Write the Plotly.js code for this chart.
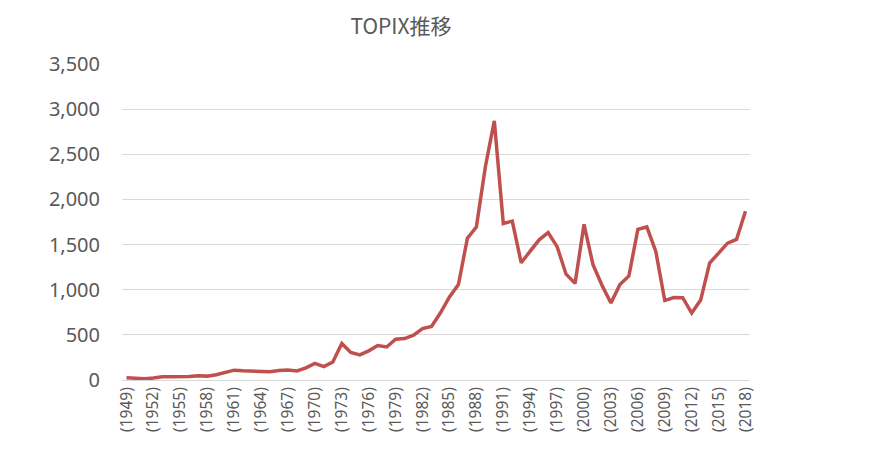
<!DOCTYPE html>
<html>
<head>
<meta charset="utf-8">
<script src="https://cdn.plot.ly/plotly-3.0.1.min.js"></script>
<style>html,body{margin:0;padding:0;background:#fff;}#chart{width:879px;height:462px;}</style>
</head>
<body>
<div id="chart"></div>
<script>
const years = [1949,1950,1951,1952,1953,1954,1955,1956,1957,1958,
  1959,1960,1961,1962,1963,1964,1965,1966,1967,1968,
  1969,1970,1971,1972,1973,1974,1975,1976,1977,1978,
  1979,1980,1981,1982,1983,1984,1985,1986,1987,1988,
  1989,1990,1991,1992,1993,1994,1995,1996,1997,1998,
  1999,2000,2001,2002,2003,2004,2005,2006,2007,2008,
  2009,2010,2011,2012,2013,2014,2015,2016,2017,2018];
const topix = [25,20,14,21,36,37,35,40,47,43,
  58,80,109,102,100,93,91,106,111,101,
  134,184,148,200,405,306,278,323,382,366,
  452,459,496,569,592,745,920,1058,1570,1695,
  2360,2870,1734,1760,1298,1428,1553,1632,1477,1172,
  1070,1724,1276,1050,852,1058,1152,1668,1695,1425,
  880,914,912,742,885,1294,1398,1516,1558,1870];
const labels = years.map(y => '(' + y + ')');
const tickLabels = labels.filter((_, i) => i % 3 === 0);

const trace = {
  x: labels,
  y: topix,
  type: 'scatter',
  mode: 'lines',
  line: {color: '#C0504D', width: 3.5},
  hoverinfo: 'x+y'
};

const layout = {
  width: 879, height: 462,
  paper_bgcolor: '#ffffff', plot_bgcolor: '#ffffff',
  margin: {l: 122, r: 129, t: 64, b: 82},
  showlegend: false,
  font: {family: '"Noto Sans", "Noto Sans CJK JP", sans-serif', color: '#595959'},
  title: {
    text: 'TOPIX推移',
    font: {family: '"Noto Sans CJK JP", "Noto Sans", sans-serif', size: 21, color: '#595959'},
    x: 401/879, xanchor: 'center', xref: 'container',
    y: 1 - 27/462, yanchor: 'middle', yref: 'container'
  },
  xaxis: {
    type: 'category',
    tickmode: 'array',
    tickvals: tickLabels,
    ticktext: tickLabels,
    tickangle: -90,
    tickfont: {size: 15.5, color: '#595959'},
    showgrid: false,
    showline: true,
    linecolor: '#d9d9d9',
    linewidth: 1,
    ticks: '',
    zeroline: false,
    range: [-0.5, years.length - 0.5],
    fixedrange: true
  },
  yaxis: {
    range: [0, 3500],
    dtick: 500,
    tickformat: ',d',
    tickfont: {size: 20, color: '#595959'},
    showgrid: true,
    gridcolor: '#d9d9d9',
    gridwidth: 1,
    zeroline: false,
    showline: false,
    ticks: '',
    ticklabelstandoff: 21,
    fixedrange: true
  }
};

Plotly.newPlot('chart', [trace], layout, {displayModeBar: false, staticPlot: true});
</script>
</body>
</html>
